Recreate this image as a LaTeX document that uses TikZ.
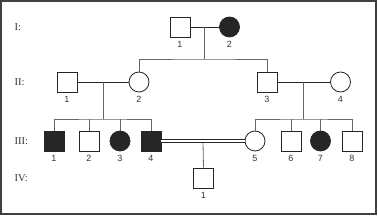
\documentclass[tikz,border=0pt]{standalone}
\usepackage{fontspec}
\setmainfont{Liberation Serif}
\setsansfont{Liberation Sans}
\usetikzlibrary{calc}

\tikzset{
    male/.style={draw=black!85, line width=0.8pt, fill=white, minimum size=20pt, inner sep=0pt,
        label={[num]below:#1}},
    female/.style={male=#1, circle},
    affected/.style={fill=black!85},
    num/.style={font=\sffamily\fontsize{9}{9}\selectfont, inner sep=1pt, label distance=3pt, text=black!80},
    gen/.style={font=\fontsize{10.5}{10.5}\selectfont, anchor=west, text=black!80},
    mate/.style={draw=black!85, line width=0.8pt},
    desc/.style={draw=black!60, line width=0.8pt}
}

\begin{document}
\begin{tikzpicture}[x=1pt, y=-1pt]
    % frame
    \useasboundingbox (0,0) rectangle (378,216);
    \draw[black!75, line width=1.2pt] (1,1) rectangle (376,214);

    % generation labels
    \node[gen] (gI)   at (11,27)  {I:};
    \node[gen] (gII)  at (11,82)  {II:};
    \node[gen] (gIII) at (11,141) {III:};
    \node[gen] (gIV)  at (11,178) {IV:};

    % generation I
    \node[male=1] (I1) at (180,27) {};
    \node[female=2, affected] (I2) at (229.5,27) {};

    % generation II
    \node[male=1] (II1) at (67,82) {};
    \node[female=2] (II2) at (139,82) {};
    \node[male=3] (II3) at (267,82) {};
    \node[female=4] (II4) at (340.5,82) {};

    % generation III
    \node[male=1, affected] (III1) at (54,141) {};
    \node[male=2] (III2) at (89,141) {};
    \node[female=3, affected] (III3) at (120,141) {};
    \node[male=4, affected] (III4) at (151,141) {};
    \node[female=5] (III5) at (255,141) {};
    \node[male=6] (III6) at (291,141) {};
    \node[female=7, affected] (III7) at (320.5,141) {};
    \node[male=8] (III8) at (352,141) {};

    % generation IV
    \node[male=1] (IV1) at (203.5,178) {};

    % I1 x I2
    \draw[mate] (I1) -- (I2);
    \coordinate (mI) at ($(I1)!0.5!(I2)$);
    \coordinate (sI) at (mI |- 0,59);
    \draw[desc] (mI) -- (sI);
    \draw[desc] (II2.north) |- (sI) -| (II3.north);

    % II1 x II2
    \draw[mate] (II1) -- (II2);
    \coordinate (mII) at ($(II1)!0.5!(II2)$);
    \coordinate (sII) at (mII |- 0,119);
    \draw[desc] (mII) -- (sII);
    \draw[desc] (III1.north) |- (sII) -| (III4.north);
    \foreach \k in {III2, III3}
        \draw[desc] (\k.north) -- (\k.north |- sII);

    % II3 x II4
    \draw[mate] (II3) -- (II4);
    \coordinate (mIII) at ($(II3)!0.5!(II4)$);
    \coordinate (sIII) at (mIII |- 0,119);
    \draw[desc] (mIII) -- (sIII);
    \draw[desc] (III5.north) |- (sIII) -| (III8.north);
    \foreach \k in {III6, III7}
        \draw[desc] (\k.north) -- (\k.north |- sIII);

    % III4 = III5 (consanguineous)
    \draw[mate, double=white, double distance=2.6pt] (III4) -- (III5);
    \coordinate (mIV) at ($(III4)!0.5!(III5) + (0,1.7)$);
    \draw[desc] (mIV) -- (IV1.north);
\end{tikzpicture}
\end{document}
